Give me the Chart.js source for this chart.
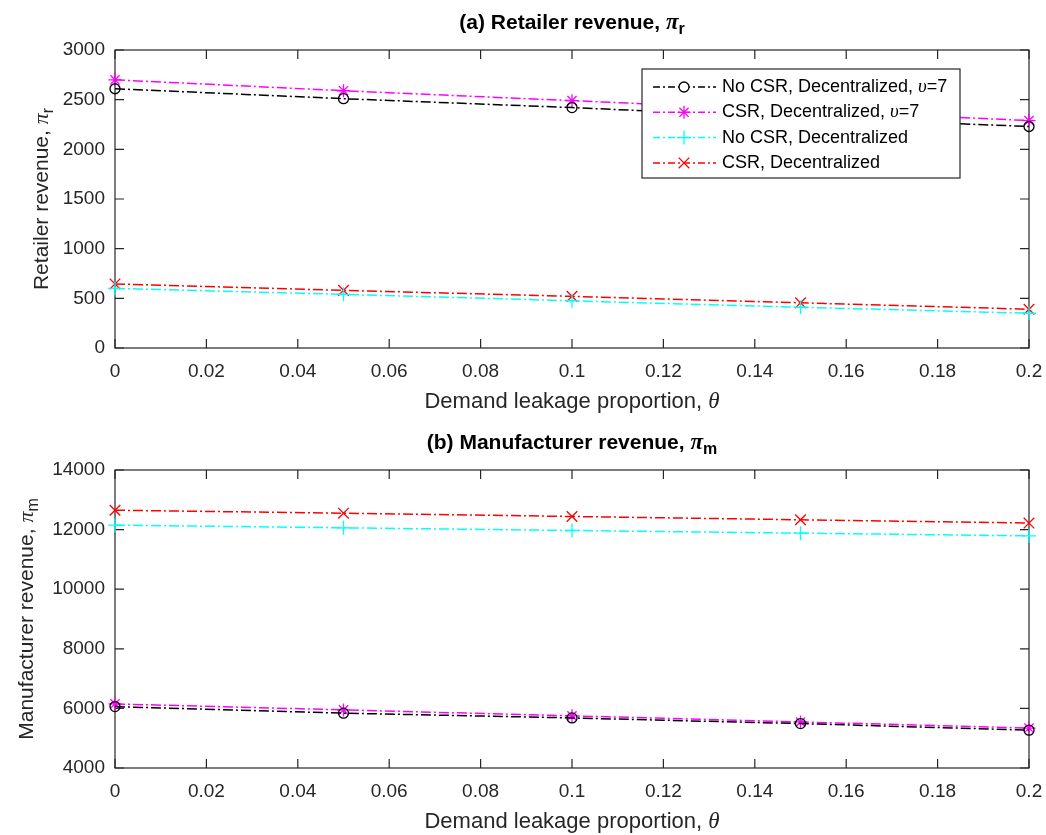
<!DOCTYPE html>
<html>
<head>
<meta charset="utf-8">
<script src="https://cdn.jsdelivr.net/npm/chart.js@4.4.1/dist/chart.umd.min.js"></script>
<style>
  body { margin: 0; background: #fff; }
  #wrap { position: relative; width: 1046px; height: 835px; }
  canvas { position: absolute; left: 0; }
</style>
</head>
<body>
<div id="wrap">
  <canvas id="chartA" width="1046" height="420" style="top:0"></canvas>
  <canvas id="chartB" width="1046" height="415" style="top:420px"></canvas>
</div>
<script>
// demand leakage proportion (theta)
let theta = [0, 0.05, 0.1, 0.15, 0.2];

// (a) retailer revenue
let retNoCsrV7 = [2610, 2510, 2420, 2320, 2230];
let retCsrV7   = [2700, 2590, 2490, 2390, 2290];
let retNoCsr   = [600, 540, 475, 410, 350];
let retCsr     = [645, 580, 520, 455, 390];

// (b) manufacturer revenue
let manNoCsrV7 = [6060, 5840, 5680, 5490, 5270];
let manCsrV7   = [6150, 5950, 5750, 5545, 5340];
let manNoCsr   = [12150, 12060, 11970, 11880, 11790];
let manCsr     = [12650, 12550, 12440, 12330, 12220];

let nombres = ["No CSR, Decentralized, ", "CSR, Decentralized, ", "No CSR, Decentralized", "CSR, Decentralized"];
let xTicks = [0, 0.02, 0.04, 0.06, 0.08, 0.1, 0.12, 0.14, 0.16, 0.18, 0.2];
let yTicksA = [0, 500, 1000, 1500, 2000, 2500, 3000];
let yTicksB = [4000, 6000, 8000, 10000, 12000, 14000];

const AXIS = '#262626';
const SANS = '"Liberation Sans", Arial, sans-serif';
const SERIF = '"Liberation Serif", "DejaVu Serif", serif';
const guion = [10, 3, 2, 3];

// estilo de cada serie: color y marcador
let estilos = [
  { color: '#000000', punto: 'circle', radio: 5 },
  { color: '#ff00ff', punto: 'star', radio: 6.5 },
  { color: '#00ffff', punto: 'cross', radio: 7 },
  { color: '#ff0000', punto: 'crossRot', radio: 7.5 }
];

function serie(i, valores) {
  let e = estilos[i];
  return {
    label: nombres[i],
    data: theta.map((t, k) => ({ x: t, y: valores[k] })),
    borderColor: e.color,
    backgroundColor: 'rgba(0,0,0,0)',
    borderWidth: 1.5,
    borderDash: guion,
    pointStyle: e.punto,
    pointRadius: e.radio,
    pointBorderWidth: 1.3,
    pointBorderColor: e.color,
    pointBackgroundColor: 'rgba(0,0,0,0)',
    tension: 0,
    clip: false
  };
}

// text with sub/italic parts
function textoRico(ctx, partes, x, y) {
  let w = 0;
  partes.forEach(p => { ctx.font = p.font; p.w = ctx.measureText(p.t).width; w += p.w; });
  let cx = x - w / 2;
  ctx.textAlign = 'left';
  ctx.textBaseline = 'middle';
  partes.forEach(p => { ctx.font = p.font; ctx.fillText(p.t, cx, y + (p.dy || 0)); cx += p.w; });
}

// box with inward ticks (MATLAB style)
let marco = {
  id: 'marco',
  beforeDatasetsDraw(chart) {
    let ctx = chart.ctx, a = chart.chartArea;
    let sx = chart.scales.x, sy = chart.scales.y;
    let L = 9;
    ctx.save();
    ctx.strokeStyle = AXIS;
    ctx.lineWidth = 1.2;
    ctx.strokeRect(a.left, a.top, a.right - a.left, a.bottom - a.top);
    ctx.beginPath();
    sx.ticks.forEach(t => {
      let px = sx.getPixelForValue(t.value);
      ctx.moveTo(px, a.bottom); ctx.lineTo(px, a.bottom - L);
      ctx.moveTo(px, a.top); ctx.lineTo(px, a.top + L);
    });
    sy.ticks.forEach(t => {
      let py = sy.getPixelForValue(t.value);
      ctx.moveTo(a.left, py); ctx.lineTo(a.left + L, py);
      ctx.moveTo(a.right, py); ctx.lineTo(a.right - L, py);
    });
    ctx.stroke();
    ctx.restore();
  }
};

// titles drawn by hand so the subscripts look right
let titulos = {
  id: 'titulos',
  afterDraw(chart, args, o) {
    let ctx = chart.ctx, a = chart.chartArea;
    ctx.save();
    ctx.fillStyle = '#000';
    textoRico(ctx, [
      { t: o.titulo, font: 'bold 21px ' + SANS },
      { t: 'π', font: 'italic bold 23px ' + SERIF },
      { t: o.sub, font: 'bold 16px ' + SANS, dy: 7 }
    ], (a.left + a.right) / 2, a.top - 27);
    ctx.fillStyle = AXIS;
    textoRico(ctx, [
      { t: 'Demand leakage proportion, ', font: '22px ' + SANS },
      { t: 'θ', font: 'italic 23px ' + SERIF }
    ], (a.left + a.right) / 2, a.bottom + 54);
    ctx.translate(o.yx, (a.top + a.bottom) / 2);
    ctx.rotate(-Math.PI / 2);
    textoRico(ctx, [
      { t: o.ytitulo, font: '21px ' + SANS },
      { t: 'π', font: 'italic 22px ' + SERIF },
      { t: o.sub, font: '16px ' + SANS, dy: 7 }
    ], 0, 0);
    ctx.restore();
  }
};

// legend box inside panel (a)
let leyenda = {
  id: 'leyenda',
  afterDatasetsDraw(chart, args, o) {
    if (!o.mostrar) return;
    let ctx = chart.ctx;
    let bx = 642, by = 69, bw = 318, bh = 109;
    ctx.save();
    ctx.fillStyle = '#fff';
    ctx.fillRect(bx, by, bw, bh);
    ctx.strokeStyle = AXIS;
    ctx.lineWidth = 1.2;
    ctx.strokeRect(bx, by, bw, bh);
    chart.data.datasets.forEach((ds, i) => {
      let y = by + 18 + i * 25.3;
      ctx.strokeStyle = ds.borderColor;
      ctx.lineWidth = 1.5;
      ctx.setLineDash([7, 3, 2, 3]);
      ctx.beginPath();
      ctx.moveTo(653, y); ctx.lineTo(716, y);
      ctx.stroke();
      ctx.setLineDash([]);
      ctx.lineWidth = 1.3;
      Chart.helpers.drawPoint(ctx, { pointStyle: ds.pointStyle, radius: ds.pointRadius, rotation: 0, borderWidth: 1.3 }, 684, y);
      ctx.fillStyle = '#000';
      ctx.font = '18px ' + SANS;
      ctx.textAlign = 'left';
      ctx.textBaseline = 'middle';
      let tx = 722;
      ctx.fillText(ds.label, tx, y);
      if (i < 2) {
        tx += ctx.measureText(ds.label).width;
        ctx.font = 'italic 19px ' + SERIF;
        ctx.fillText('υ', tx, y);
        tx += ctx.measureText('υ').width;
        ctx.font = '18px ' + SANS;
        ctx.fillText('=7', tx, y);
      }
    });
    ctx.restore();
  }
};

function opciones(ymin, ymax, yTicks, extra) {
  return {
    responsive: false,
    animation: false,
    layout: { padding: { top: 50, right: 17, left: 0, bottom: 0 } },
    plugins: {
      legend: { display: false },
      tooltip: { enabled: false },
      titulos: extra.titulos,
      leyenda: extra.leyenda
    },
    scales: {
      x: {
        type: 'linear', min: 0, max: 0.2,
        afterBuildTicks: s => { s.ticks = xTicks.map(v => ({ value: v })); },
        afterFit: s => { s.height = extra.xAlto; s.paddingLeft = 0; s.paddingRight = 0; },
        grid: { display: false, drawTicks: false },
        border: { display: false },
        ticks: {
          padding: 12, color: AXIS, maxRotation: 0, autoSkip: false,
          font: { family: SANS, size: 19 },
          callback: v => String(Math.round(v * 100) / 100)
        }
      },
      y: {
        min: ymin, max: ymax,
        afterBuildTicks: s => { s.ticks = yTicks.map(v => ({ value: v })); },
        afterFit: s => { s.width = 115; s.paddingTop = 0; s.paddingBottom = 0; },
        grid: { display: false, drawTicks: false },
        border: { display: false },
        ticks: {
          padding: 10, color: AXIS,
          font: { family: SANS, size: 19 },
          callback: v => String(v)
        }
      }
    }
  };
}

let graficaA = new Chart(document.getElementById('chartA').getContext('2d'), {
  type: 'line',
  data: { datasets: [serie(0, retNoCsrV7), serie(1, retCsrV7), serie(2, retNoCsr), serie(3, retCsr)] },
  options: opciones(0, 3000, yTicksA, {
    xAlto: 72,
    titulos: { titulo: '(a) Retailer revenue, ', sub: 'r', ytitulo: 'Retailer revenue, ', yx: 42 },
    leyenda: { mostrar: true }
  }),
  plugins: [marco, titulos, leyenda]
});

let graficaB = new Chart(document.getElementById('chartB').getContext('2d'), {
  type: 'line',
  data: { datasets: [serie(0, manNoCsrV7), serie(1, manCsrV7), serie(2, manNoCsr), serie(3, manCsr)] },
  options: opciones(4000, 14000, yTicksB, {
    xAlto: 67,
    titulos: { titulo: '(b) Manufacturer revenue, ', sub: 'm', ytitulo: 'Manufacturer revenue, ', yx: 27 },
    leyenda: { mostrar: false }
  }),
  plugins: [marco, titulos, leyenda]
});
</script>
</body>
</html>
